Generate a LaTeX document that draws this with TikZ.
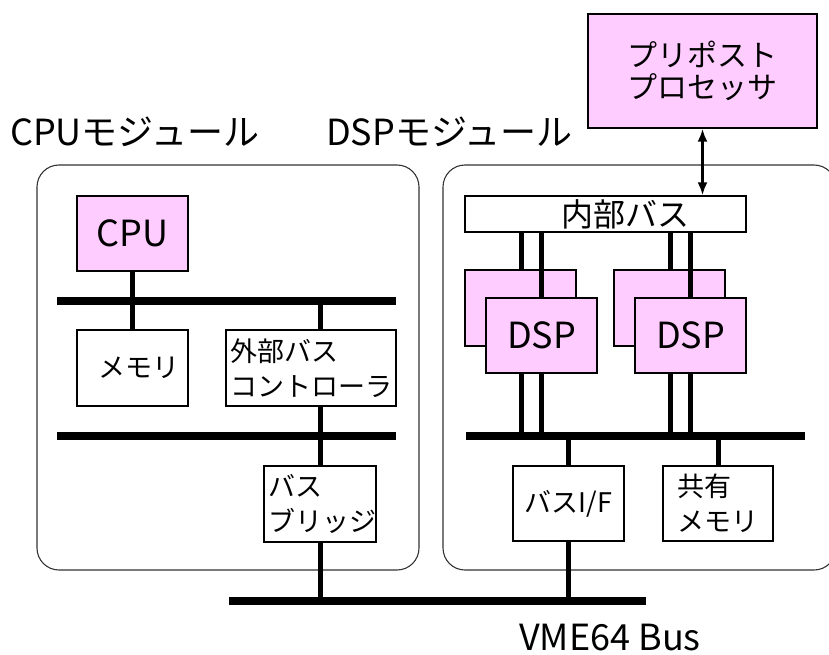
\documentclass[tikz,border=0pt]{standalone}
\usepackage{fontspec}
\setmainfont{Noto Sans CJK JP}
\usetikzlibrary{arrows.meta}
\definecolor{procpink}{HTML}{FFCCFF}
\definecolor{frame}{HTML}{333333}
\tikzset{
  box/.style={draw, line width=1.3pt, fill=white, inner sep=0pt, align=left,
              font=\fontsize{27}{35}\selectfont},
  pinkbox/.style={box, fill=procpink},
  bigtext/.style={font=\fontsize{36}{40}\selectfont},
  bus/.style={line width=7.5pt},
  link/.style={line width=5pt},
  module/.style={draw=frame, line width=1.1pt, rounded corners=22pt},
  title/.style={inner sep=0pt, anchor=west, font=\fontsize{36}{40}\selectfont},
}
\begin{document}
\begin{tikzpicture}[x=1pt,y=-1pt]
\useasboundingbox (0,0) rectangle (829,655);

% module frames
\draw[module] (37,165) rectangle (419,570);
\draw[module] (443,165) rectangle (836,570);

% module titles
\node[title] (cpumodlabel) at (10,132) {CPUモジュール};
\node[title] (dspmodlabel) at (326,132) {DSPモジュール};

% pre/post processor and the internal bus
\node[pinkbox, minimum width=229pt, minimum height=114pt,
      font=\fontsize{30}{40}\selectfont, align=center] (ppp) at (702.5,71)
      {\raisebox{-6pt}{\shortstack{プリポスト\\[2pt]プロセッサ}}};
\node[box, minimum width=281pt, minimum height=36pt,
      font=\fontsize{32}{35}\selectfont] (ibus) at (605.5,214) {\hspace*{40pt}内部バス};
\draw[line width=2.8pt, {Latex[length=13pt,width=10pt]}-{Latex[length=13pt,width=10pt]}]
  (ppp.south) -- (ppp.south |- ibus.north);

% CPU module
\coordinate (b1L) at (57,301);  \coordinate (b1R) at (396,301);
\coordinate (b2L) at (57,436);  \coordinate (b2R) at (396,436);
\draw[bus] (b1L) -- (b1R);
\draw[bus] (b2L) -- (b2R);
\node[pinkbox, minimum width=111pt, minimum height=75pt, bigtext] (cpu) at (132.5,233.5) {\raisebox{-4pt}{CPU}};
\node[box, minimum width=111pt, minimum height=76pt] (mem) at (132.5,368) {\hspace*{12pt}メモリ};
\node[box, minimum width=170pt, minimum height=76pt] (ebc) at (311,368) {外部バス\\コントローラ};
\node[box, minimum width=112pt, minimum height=76pt] (brg) at (320,504) {\hspace*{4pt}バス\\\hspace*{4pt}ブリッジ};
\coordinate (ex) at (320,301);
\draw[link] (cpu.south) -- (cpu.south |- b1L);
\draw[link] (mem.north) -- (mem.north |- b1L);
\draw[link] (ex) -- (ex |- ebc.north);
\draw[link] (ex |- ebc.south) -- (ex |- brg.north);

% DSP module
\coordinate (dbL) at (466,436); \coordinate (dbR) at (805,436);
\draw[bus] (dbL) -- (dbR);
\node[pinkbox, minimum width=111pt, minimum height=76pt] (dspAback) at (520.5,308) {};
\node[pinkbox, minimum width=111pt, minimum height=76pt] (dspBback) at (669.5,308) {};
\coordinate (a1) at (521,0); \coordinate (a2) at (541,0);
\coordinate (c1) at (670,0); \coordinate (c2) at (690,0);
\draw[link] (a1 |- ibus.south) -- (a1 |- dspAback.north);
\draw[link] (c1 |- ibus.south) -- (c1 |- dspBback.north);
\draw[link] (a2 |- ibus.south) -- (a2 |- 0,300);
\draw[link] (c2 |- ibus.south) -- (c2 |- 0,300);
\node[pinkbox, minimum width=111pt, minimum height=75pt, bigtext] (dspA) at (541.5,335.5) {\raisebox{-8pt}{DSP}};
\node[pinkbox, minimum width=111pt, minimum height=75pt, bigtext] (dspB) at (690.5,335.5) {\raisebox{-8pt}{DSP}};
\foreach \p in {a1,a2}{\draw[link] (\p |- dspA.south) -- (\p |- dbL);}
\foreach \p in {c1,c2}{\draw[link] (\p |- dspB.south) -- (\p |- dbL);}
\node[box, minimum width=111pt, minimum height=75pt] (bif) at (568.5,503.5) {バスI/F};
\node[box, minimum width=110pt, minimum height=75pt] (shm) at (718,503.5) {共有\\メモリ};
\draw[link] (bif.north |- dbL) -- (bif.north);
\draw[link] (shm.north |- dbL) -- (shm.north);

% VME bus
\coordinate (vL) at (229,601); \coordinate (vR) at (646,601);
\draw[bus] (vL) -- (vR);
\draw[link] (brg.south) -- (brg.south |- vL);
\draw[link] (bif.south) -- (bif.south |- vL);
\node[inner sep=0pt, bigtext] (vmelabel) at (610,638) {VME64 Bus};
\end{tikzpicture}
\end{document}
